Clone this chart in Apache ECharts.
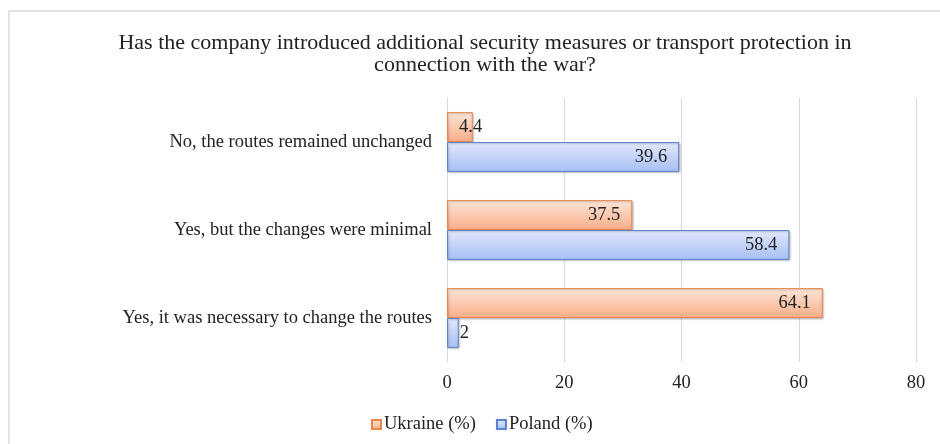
<!DOCTYPE html>
<html>
<head>
<meta charset="utf-8">
<script src="https://cdn.jsdelivr.net/npm/echarts@6/dist/echarts.min.js"></script>
<style>
  html, body { margin: 0; padding: 0; background: #fff; }
  #frame { position: absolute; left: 8px; top: 10px; width: 940px; height: 440px; border-left: 2px solid #e3e3e3; border-top: 2px solid #e3e3e3; }
  #main { width: 940px; height: 444px; }
</style>
</head>
<body>
<div id="frame"></div>
<div id="main"></div>
<script>
  // categories top to bottom
  const categories = [
    'No, the routes remained unchanged',
    'Yes, but the changes were minimal',
    'Yes, it was necessary to change the routes'
  ];
  const ukraine = [4.4, 31.6, 64.1];
  const ukraineLabels = ['4.4', '37.5', '64.1'];
  const poland = [39.6, 58.4, 2];
  const xTicks = { min: 0, max: 80, interval: 20 };

  const serif = '"Liberation Serif", "Times New Roman", serif';
  const fs = 18.5;

  function grad(top, bottom) {
    return new echarts.graphic.LinearGradient(0, 0, 0, 1, [
      { offset: 0, color: top },
      { offset: 1, color: bottom }
    ]);
  }

  // label placement like the original: small bars get the label outside / overlapping
  function place(v) {
    if (v < 3) return { position: 'right', distance: 1 };
    if (v < 10) return { position: 'insideLeft', distance: 12 };
    return { position: 'insideRight', distance: 12 };
  }

  function items(values, labels) {
    return values.map((v, i) => ({
      value: v,
      label: Object.assign({ formatter: labels ? labels[i] : String(v) }, place(v))
    }));
  }

  const myChart = echarts.init(document.getElementById('main'));

  const option = {
    animation: false,
    textStyle: { fontFamily: serif },
    title: {
      text: 'Has the company introduced additional security measures or transport protection in\nconnection with the war?',
      left: 480,
      top: 27,
      textAlign: 'center',
      textStyle: { fontFamily: 'Liberation Serif', fontSize: 22, fontWeight: 'normal', color: '#222', lineHeight: 22 }
    },
    legend: {
      bottom: 5,
      left: 366,
      icon: 'rect',
      itemWidth: 9,
      itemHeight: 9,
      itemGap: 20,
      textStyle: { fontFamily: serif, fontSize: fs, color: '#222', padding: [0, 0, 0, -2] },
      data: ['Ukraine (%)', 'Poland (%)']
    },
    grid: { left: 447, right: 24, top: 98, bottom: 82 },
    xAxis: {
      type: 'value',
      min: xTicks.min,
      max: xTicks.max,
      interval: xTicks.interval,
      axisLine: { show: false },
      axisTick: { show: false },
      splitLine: { lineStyle: { color: '#d9d9d9' } },
      axisLabel: { fontFamily: serif, fontSize: fs, color: '#222', margin: 12 }
    },
    yAxis: {
      type: 'category',
      inverse: true,
      data: categories,
      axisLine: { show: true, lineStyle: { color: '#d9d9d9' } },
      axisTick: { show: false },
      axisLabel: { fontFamily: serif, fontSize: fs, color: '#222', margin: 15 }
    },
    series: [
      {
        name: 'Ukraine (%)',
        type: 'bar',
        barGap: '0%',
        barCategoryGap: '32%',
        data: items(ukraine, ukraineLabels),
        itemStyle: {
          color: grad('#fee6d8', '#f7ad86'),
          borderColor: '#e9874f',
          borderWidth: 1,
          shadowColor: 'rgba(0,0,0,0.25)',
          shadowBlur: 2,
          shadowOffsetX: 1,
          shadowOffsetY: 1
        },
        label: { show: true, fontFamily: serif, fontSize: fs, color: '#222' }
      },
      {
        name: 'Poland (%)',
        type: 'bar',
        data: items(poland),
        itemStyle: {
          color: grad('#e2e9fc', '#a7bff4'),
          borderColor: '#5b82d1',
          borderWidth: 1,
          shadowColor: 'rgba(0,0,0,0.25)',
          shadowBlur: 2,
          shadowOffsetX: 1,
          shadowOffsetY: 1
        },
        label: { show: true, fontFamily: serif, fontSize: fs, color: '#222' }
      }
    ]
  };

  myChart.setOption(option);
</script>
</body>
</html>
